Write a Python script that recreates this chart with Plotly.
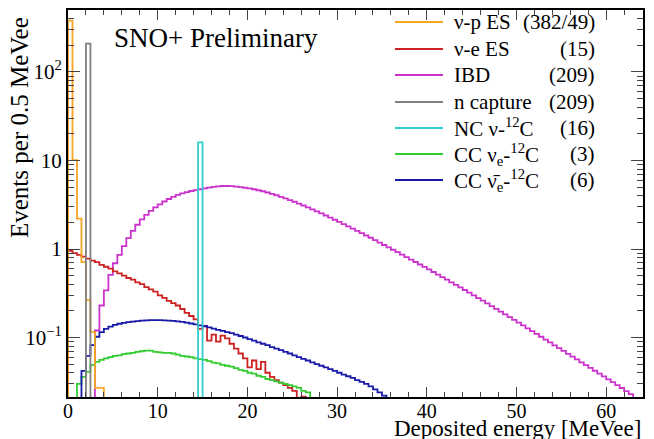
import plotly.graph_objects as go

BIN = 0.5

# nu-p ES (orange)
nup_start = 0.0
nup_values = [380, 10.1, 2.2, 0.71, 0.265, 0.116, 0.027, 0.027]

# nu-e ES (red)
nue_start = 0.0
nue_values = [0.95, 0.90, 0.86, 0.82, 0.78, 0.74, 0.71, 0.66, 0.63, 0.60, 0.56, 0.53, 0.50, 0.47,
              0.45, 0.42, 0.40, 0.37, 0.35, 0.33, 0.30, 0.28, 0.26, 0.245, 0.23, 0.21, 0.19, 0.175,
              0.16, 0.125, 0.135, 0.092, 0.108, 0.090, 0.105, 0.098, 0.085, 0.075, 0.066, 0.058,
              0.046, 0.055, 0.044, 0.053, 0.040, 0.036, 0.033, 0.031, 0.029, 0.027, 0.025, 0.019, 0.0215]

# IBD (magenta)
ibd_start = 3.0
ibd_values = [0.12, 0.23, 0.34, 0.51, 0.69, 0.86, 1.08, 1.33, 1.60, 1.88, 2.16, 2.43, 2.69, 2.95,
              3.20, 3.44, 3.67, 3.89, 4.09, 4.25, 4.40, 4.52, 4.62, 4.73, 4.84, 4.94, 5.04, 5.11,
              5.15, 5.15, 5.13, 5.07, 5.01, 4.92, 4.83, 4.73, 4.61, 4.49, 4.35, 4.20, 4.05, 3.89,
              3.73, 3.57, 3.42, 3.26, 3.10, 2.95, 2.81, 2.66, 2.52, 2.39, 2.26, 2.14, 2.02, 1.91,
              1.80, 1.70, 1.60, 1.51, 1.42, 1.34, 1.26, 1.18, 1.11, 1.045, 0.98, 0.92, 0.865, 0.81,
              0.76, 0.713, 0.668, 0.627, 0.588, 0.55, 0.514, 0.481, 0.45, 0.42, 0.394, 0.368, 0.344,
              0.321, 0.299, 0.279, 0.261, 0.243, 0.226, 0.211, 0.196, 0.183, 0.170, 0.158, 0.147,
              0.137, 0.127, 0.118, 0.110, 0.102, 0.0946, 0.0879, 0.0817, 0.0759, 0.0705, 0.0655,
              0.0608, 0.0565, 0.0525, 0.0488, 0.0453, 0.0421, 0.0391, 0.0363, 0.0337, 0.0313,
              0.029, 0.0269, 0.0248, 0.0229]

# n capture (gray)
ncap_start = 2.0
ncap_values = [209]

# NC nu-12C (cyan)
nc_start = 14.5
nc_values = [16]

# CC nu_e-12C (green)
ccnue_start = 1.0
ccnue_values = [0.030, 0.036, 0.041, 0.049, 0.053, 0.056, 0.058, 0.060, 0.062, 0.063, 0.065, 0.066,
                0.067, 0.069, 0.070, 0.071, 0.071, 0.069, 0.068, 0.067, 0.067, 0.066, 0.064, 0.062,
                0.061, 0.060, 0.058, 0.057, 0.056, 0.054, 0.052, 0.051, 0.049, 0.048, 0.047, 0.045,
                0.043, 0.042, 0.040, 0.039, 0.037, 0.036, 0.034, 0.033, 0.032, 0.031, 0.030, 0.029,
                0.028, 0.027, 0.025, 0.024]

# CC anti-nu_e-12C (blue)
ccnuebar_start = 1.5
ccnuebar_values = [0.042, 0.062, 0.082, 0.102, 0.115, 0.125, 0.133, 0.139, 0.143, 0.146, 0.149,
                   0.151, 0.153, 0.155, 0.156, 0.157, 0.157, 0.157, 0.156, 0.155, 0.154, 0.152,
                   0.150, 0.147, 0.144, 0.141, 0.137, 0.134, 0.130, 0.126, 0.122, 0.119, 0.115,
                   0.112, 0.108, 0.104, 0.100, 0.096, 0.092, 0.088, 0.085, 0.082, 0.078, 0.075,
                   0.072, 0.069, 0.066, 0.063, 0.060, 0.0575, 0.055, 0.0525, 0.050, 0.048, 0.046,
                   0.044, 0.042, 0.040, 0.038, 0.0365, 0.035, 0.033, 0.0315, 0.030, 0.028, 0.026,
                   0.024, 0.022]

labels = ["ν-p ES", "ν-e ES", "IBD", "n capture", "NC ν-<sup>12</sup>C",
          "CC ν<sub>e</sub>-<sup>12</sup>C", "CC ν\u0304<sub>e</sub>-<sup>12</sup>C"]
counts = ["(382/49)", "(15)", "(209)", "(209)", "(16)", "(3)", "(6)"]
colors = ["#f5a623", "#cc2222", "#cc33cc", "#808080", "#33cccc", "#33cc33", "#1a1aaa"]

series = [(nup_start, nup_values), (nue_start, nue_values), (ibd_start, ibd_values),
          (ncap_start, ncap_values), (nc_start, nc_values), (ccnue_start, ccnue_values),
          (ccnuebar_start, ccnuebar_values)]

FLOOR = 1e-3
XMAX = 64.1
YLOG = [-1.672, 2.70]

fig = go.Figure()
order = [2, 1, 5, 6, 0, 3, 4]
for i in order:
    start, vals = series[i]
    xs, ys = [start], [FLOOR]
    for k, v in enumerate(vals):
        xs.append(start + k * BIN)
        ys.append(v if v > 0 else FLOOR)
    end = start + len(vals) * BIN
    xs += [end, end]
    ys += [ys[-1], FLOOR]
    fig.add_trace(go.Scatter(x=xs, y=ys, mode="lines", line=dict(color=colors[i], width=1.8, shape="hv"),
                             showlegend=False, hoverinfo="skip"))

serif = "Liberation Serif"

L, R, T, B = 68, 11, 10, 42
W, H = 654, 439
PW, PH = W - L - R, H - T - B

def px(xp):
    return (xp - L) / PW

def py(yp):
    return (H - B - yp) / PH

fig.update_layout(
    width=W, height=H,
    margin=dict(l=L, r=R, t=T, b=B, autoexpand=False),
    paper_bgcolor="white", plot_bgcolor="white",
    font=dict(family=serif, size=21, color="black"),
    xaxis=dict(range=[0, XMAX], tickvals=[0, 10, 20, 30, 40, 50, 60], ticks="inside", ticklen=10,
               tickwidth=1.2, showline=True, linewidth=2, linecolor="black", mirror="allticks",
               showgrid=False, zeroline=False, ticklabelstandoff=-5,
               minor=dict(ticks="inside", ticklen=5, dtick=2, tickwidth=1, showgrid=False),
               tickfont=dict(size=20, family=serif)),
    yaxis=dict(type="log", range=YLOG, tickvals=[0.1, 1, 10, 100],
               ticktext=["10<sup>−1</sup>", "1", "10", "10<sup>2</sup>"],
               ticks="inside", ticklen=12, tickwidth=1.2, showline=True, linewidth=2,
               linecolor="black", mirror="allticks", showgrid=False, zeroline=False,
               minor=dict(ticks="inside", ticklen=6, dtick="D1", tickwidth=1, showgrid=False),
               tickfont=dict(size=21, family=serif)),
)

ann = []
ann.append(dict(x=px(20), y=py(128), xref="paper", yref="paper", text="Events per 0.5 MeVee",
                textangle=-90, showarrow=False, font=dict(size=25, family=serif),
                xanchor="center", yanchor="middle"))
ann.append(dict(x=px(643), y=py(428), xref="paper", yref="paper", text="Deposited energy [MeVee]",
                showarrow=False, font=dict(size=23, family=serif), xanchor="right", yanchor="middle"))
ann.append(dict(x=px(112), y=py(38), xref="paper", yref="paper", text="SNO+ Preliminary",
                showarrow=False, font=dict(size=27, family=serif), xanchor="left", yanchor="middle"))

rows = [22, 49, 75, 102, 128, 154, 180]
shapes = []
for i, yr in enumerate(rows):
    shapes.append(dict(type="line", xref="paper", yref="paper", x0=px(395), x1=px(443),
                       y0=py(yr), y1=py(yr), line=dict(color=colors[i], width=1.8)))
    ann.append(dict(x=px(452), y=py(yr), xref="paper", yref="paper", text=labels[i],
                    showarrow=False, font=dict(size=21, family=serif), xanchor="left", yanchor="middle"))
    ann.append(dict(x=px(597), y=py(yr), xref="paper", yref="paper", text=counts[i],
                    showarrow=False, font=dict(size=21, family=serif), xanchor="right", yanchor="middle"))

fig.update_layout(annotations=ann, shapes=shapes)
fig.write_html("out.html", config={"displayModeBar": False},
               post_script="document.body.style.margin='0';document.body.style.padding='0';")
